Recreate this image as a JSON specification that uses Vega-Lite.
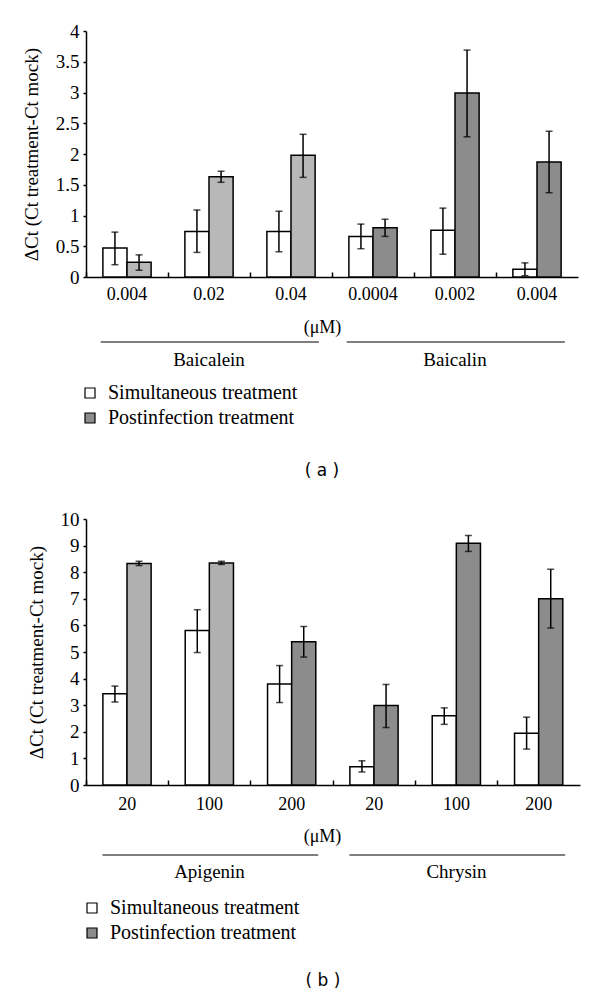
{
  "$schema": "https://vega.github.io/schema/vega-lite/v6.json",
  "padding": {"left": 22, "top": 22, "right": 5, "bottom": 5},
  "spacing": 31,
  "resolve": {"legend": {"fill": "independent"}, "scale": {"x": "independent", "y": "independent"}},
  "config": {
    "view": {"stroke": null},
    "font": "Liberation Serif",
    "axis": {
      "grid": false,
      "domainColor": "black",
      "domainWidth": 1.5,
      "tickColor": "black",
      "tickWidth": 1.5,
      "labelColor": "black",
      "titleColor": "black",
      "labelFont": "Liberation Serif",
      "titleFont": "Liberation Serif",
      "labelFontSize": 18,
      "titleFontSize": 18,
      "titleFontWeight": "normal"
    },
    "legend": {
      "labelFont": "Liberation Serif",
      "labelFontSize": 20,
      "labelColor": "black",
      "labelLimit": 0
    }
  },
  "vconcat": [
    {
      "width": 492,
      "height": 246,
      "title": {"text": "( a )", "orient": "bottom", "font": "DejaVu Sans", "fontSize": 17, "fontWeight": "normal", "color": "black", "offset": 35, "dx": -10},
      "data": {"values": [
        {"cat": "Baicalein|0.004", "group": "Baicalein", "series": "Simultaneous treatment", "value": 0.47, "lo": 0.20, "hi": 0.73},
        {"cat": "Baicalein|0.004", "group": "Baicalein", "series": "Postinfection treatment", "value": 0.24, "lo": 0.11, "hi": 0.36},
        {"cat": "Baicalein|0.02", "group": "Baicalein", "series": "Simultaneous treatment", "value": 0.74, "lo": 0.40, "hi": 1.09},
        {"cat": "Baicalein|0.02", "group": "Baicalein", "series": "Postinfection treatment", "value": 1.63, "lo": 1.54, "hi": 1.72},
        {"cat": "Baicalein|0.04", "group": "Baicalein", "series": "Simultaneous treatment", "value": 0.74, "lo": 0.41, "hi": 1.07},
        {"cat": "Baicalein|0.04", "group": "Baicalein", "series": "Postinfection treatment", "value": 1.98, "lo": 1.62, "hi": 2.32},
        {"cat": "Baicalin|0.0004", "group": "Baicalin", "series": "Simultaneous treatment", "value": 0.66, "lo": 0.46, "hi": 0.86},
        {"cat": "Baicalin|0.0004", "group": "Baicalin", "series": "Postinfection treatment", "value": 0.80, "lo": 0.66, "hi": 0.94},
        {"cat": "Baicalin|0.002", "group": "Baicalin", "series": "Simultaneous treatment", "value": 0.76, "lo": 0.37, "hi": 1.12},
        {"cat": "Baicalin|0.002", "group": "Baicalin", "series": "Postinfection treatment", "value": 2.99, "lo": 2.28, "hi": 3.69},
        {"cat": "Baicalin|0.004", "group": "Baicalin", "series": "Simultaneous treatment", "value": 0.125, "lo": 0.02, "hi": 0.23},
        {"cat": "Baicalin|0.004", "group": "Baicalin", "series": "Postinfection treatment", "value": 1.87, "lo": 1.37, "hi": 2.37}
      ]},
      "encoding": {
        "x": {"field": "cat", "type": "nominal", "sort": null,
          "scale": {"domain": ["Baicalein|0.004", "Baicalein|0.02", "Baicalein|0.04", "Baicalin|0.0004", "Baicalin|0.002", "Baicalin|0.004"], "paddingInner": 0, "paddingOuter": 0},
          "axis": {"labelExpr": "split(datum.label, '|')[1]", "labelAngle": 0, "bandPosition": 0, "tickSize": -5, "labelPadding": 13, "labelFont": "Liberation Serif", "labelFontSize": 18, "title": "(μM)", "titleFont": "Liberation Serif", "titleFontSize": 18, "titlePadding": 15, "titleX": 236}},
        "xOffset": {"field": "series", "type": "nominal", "sort": ["Simultaneous treatment", "Postinfection treatment"], "scale": {"paddingInner": 0, "paddingOuter": 0.7}}
      },
      "layer": [
        {
          "mark": {"type": "bar", "stroke": "black", "strokeWidth": 1.5},
          "encoding": {
            "y": {"field": "value", "type": "quantitative", "scale": {"domain": [0, 4], "nice": false},
              "axis": {"values": [0, 0.5, 1, 1.5, 2, 2.5, 3, 3.5, 4], "format": "~r", "tickSize": 3, "labelPadding": 4, "labelFont": "Liberation Serif", "labelFontSize": 19, "title": "ΔCt (Ct treatment-Ct mock)", "titleFont": "Liberation Serif", "titleFontSize": 19, "titlePadding": 14}},
            "fill": {
              "condition": {"test": "datum.series == 'Postinfection treatment' && datum.group == 'Baicalein'", "value": "#b8b8b8"},
              "field": "series", "type": "nominal",
              "scale": {"domain": ["Simultaneous treatment", "Postinfection treatment"], "range": ["white", "#8c8c8c"]},
              "legend": {"title": null, "orient": "none", "legendX": -6, "legendY": 352, "symbolType": "square", "symbolSize": 100, "symbolStrokeColor": "black", "symbolStrokeWidth": 1.2, "labelOffset": 8, "rowPadding": 5, "labelFont": "Liberation Serif", "labelFontSize": 20}
            }
          }
        },
        {
          "mark": {"type": "rule", "color": "black", "strokeWidth": 1.5},
          "encoding": {"y": {"field": "lo", "type": "quantitative",
              "axis": {"values": [0, 0.5, 1, 1.5, 2, 2.5, 3, 3.5, 4], "format": "~r", "tickSize": 3, "labelPadding": 4, "labelFont": "Liberation Serif", "labelFontSize": 19, "title": "ΔCt (Ct treatment-Ct mock)", "titleFont": "Liberation Serif", "titleFontSize": 19, "titlePadding": 14}},
            "y2": {"field": "hi"}}
        },
        {
          "mark": {"type": "tick", "color": "black", "size": 7, "thickness": 1.5},
          "encoding": {"y": {"field": "lo", "type": "quantitative",
              "axis": {"values": [0, 0.5, 1, 1.5, 2, 2.5, 3, 3.5, 4], "format": "~r", "tickSize": 3, "labelPadding": 4, "labelFont": "Liberation Serif", "labelFontSize": 19, "title": "ΔCt (Ct treatment-Ct mock)", "titleFont": "Liberation Serif", "titleFontSize": 19, "titlePadding": 14}}}
        },
        {
          "mark": {"type": "tick", "color": "black", "size": 7, "thickness": 1.5},
          "encoding": {"y": {"field": "hi", "type": "quantitative",
              "axis": {"values": [0, 0.5, 1, 1.5, 2, 2.5, 3, 3.5, 4], "format": "~r", "tickSize": 3, "labelPadding": 4, "labelFont": "Liberation Serif", "labelFontSize": 19, "title": "ΔCt (Ct treatment-Ct mock)", "titleFont": "Liberation Serif", "titleFontSize": 19, "titlePadding": 14}}}
        },
        {
          "data": {"values": [
            {"group": "Baicalein", "start": "Baicalein|0.004", "mid": "Baicalein|0.02", "end": "Baicalein|0.04"},
            {"group": "Baicalin", "start": "Baicalin|0.0004", "mid": "Baicalin|0.002", "end": "Baicalin|0.004"}
          ]},
          "mark": {"type": "rule", "color": "black", "strokeWidth": 1.2, "yOffset": 65},
          "encoding": {
            "x": {"field": "start", "type": "nominal", "bandPosition": 0.18},
            "x2": {"field": "end", "bandPosition": 0.84},
            "xOffset": null,
            "y": {"datum": 0, "type": "quantitative",
              "axis": {"values": [0, 0.5, 1, 1.5, 2, 2.5, 3, 3.5, 4], "format": "~r", "tickSize": 3, "labelPadding": 4, "labelFont": "Liberation Serif", "labelFontSize": 19, "title": "ΔCt (Ct treatment-Ct mock)", "titleFont": "Liberation Serif", "titleFontSize": 19, "titlePadding": 14}}
          }
        },
        {
          "data": {"values": [
            {"group": "Baicalein", "start": "Baicalein|0.004", "mid": "Baicalein|0.02", "end": "Baicalein|0.04"},
            {"group": "Baicalin", "start": "Baicalin|0.0004", "mid": "Baicalin|0.002", "end": "Baicalin|0.004"}
          ]},
          "mark": {"type": "text", "font": "Liberation Serif", "fontSize": 19, "color": "black", "baseline": "middle", "dy": 83},
          "encoding": {
            "x": {"field": "mid", "type": "nominal"},
            "xOffset": null,
            "y": {"datum": 0, "type": "quantitative",
              "axis": {"values": [0, 0.5, 1, 1.5, 2, 2.5, 3, 3.5, 4], "format": "~r", "tickSize": 3, "labelPadding": 4, "labelFont": "Liberation Serif", "labelFontSize": 19, "title": "ΔCt (Ct treatment-Ct mock)", "titleFont": "Liberation Serif", "titleFontSize": 19, "titlePadding": 14}},
            "text": {"field": "group"}
          }
        }
      ]
    },
    {
      "width": 494,
      "height": 266,
      "title": {"text": "( b )", "orient": "bottom", "font": "DejaVu Sans", "fontSize": 17, "fontWeight": "normal", "color": "black", "offset": 30, "dx": -10},
      "data": {"values": [
        {"cat": "Apigenin|20", "group": "Apigenin", "series": "Simultaneous treatment", "value": 3.43, "lo": 3.12, "hi": 3.72},
        {"cat": "Apigenin|20", "group": "Apigenin", "series": "Postinfection treatment", "value": 8.33, "lo": 8.25, "hi": 8.41},
        {"cat": "Apigenin|100", "group": "Apigenin", "series": "Simultaneous treatment", "value": 5.81, "lo": 4.98, "hi": 6.59},
        {"cat": "Apigenin|100", "group": "Apigenin", "series": "Postinfection treatment", "value": 8.35, "lo": 8.29, "hi": 8.41},
        {"cat": "Apigenin|200", "group": "Apigenin", "series": "Simultaneous treatment", "value": 3.80, "lo": 3.10, "hi": 4.49},
        {"cat": "Apigenin|200", "group": "Apigenin", "series": "Postinfection treatment", "value": 5.39, "lo": 4.81, "hi": 5.96},
        {"cat": "Chrysin|20", "group": "Chrysin", "series": "Simultaneous treatment", "value": 0.69, "lo": 0.49, "hi": 0.91},
        {"cat": "Chrysin|20", "group": "Chrysin", "series": "Postinfection treatment", "value": 2.99, "lo": 2.16, "hi": 3.78},
        {"cat": "Chrysin|100", "group": "Chrysin", "series": "Simultaneous treatment", "value": 2.60, "lo": 2.28, "hi": 2.90},
        {"cat": "Chrysin|100", "group": "Chrysin", "series": "Postinfection treatment", "value": 9.09, "lo": 8.78, "hi": 9.38},
        {"cat": "Chrysin|200", "group": "Chrysin", "series": "Simultaneous treatment", "value": 1.95, "lo": 1.35, "hi": 2.55},
        {"cat": "Chrysin|200", "group": "Chrysin", "series": "Postinfection treatment", "value": 7.00, "lo": 5.90, "hi": 8.11}
      ]},
      "encoding": {
        "x": {"field": "cat", "type": "nominal", "sort": null,
          "scale": {"domain": ["Apigenin|20", "Apigenin|100", "Apigenin|200", "Chrysin|20", "Chrysin|100", "Chrysin|200"], "paddingInner": 0, "paddingOuter": 0},
          "axis": {"labelExpr": "split(datum.label, '|')[1]", "labelAngle": 0, "bandPosition": 0, "tickSize": -5, "labelPadding": 15, "labelFont": "Liberation Serif", "labelFontSize": 18, "title": "(μM)", "titleFont": "Liberation Serif", "titleFontSize": 18, "titlePadding": 14, "titleX": 236}},
        "xOffset": {"field": "series", "type": "nominal", "sort": ["Simultaneous treatment", "Postinfection treatment"], "scale": {"paddingInner": 0, "paddingOuter": 0.7}}
      },
      "layer": [
        {
          "mark": {"type": "bar", "stroke": "black", "strokeWidth": 1.5},
          "encoding": {
            "y": {"field": "value", "type": "quantitative", "scale": {"domain": [0, 10], "nice": false},
              "axis": {"values": [0, 1, 2, 3, 4, 5, 6, 7, 8, 9, 10], "format": "~r", "tickSize": 3, "labelPadding": 4, "labelFont": "Liberation Serif", "labelFontSize": 19, "title": "ΔCt (Ct treatment-Ct mock)", "titleFont": "Liberation Serif", "titleFontSize": 19, "titlePadding": 14}},
            "fill": {
              "condition": {"test": "datum.series == 'Postinfection treatment' && datum.group == 'Apigenin' && datum.cat != 'Apigenin|200'", "value": "#b0b0b0"},
              "field": "series", "type": "nominal",
              "scale": {"domain": ["Simultaneous treatment", "Postinfection treatment"], "range": ["white", "#8c8c8c"]},
              "legend": {"title": null, "orient": "none", "legendX": -4, "legendY": 379, "symbolType": "square", "symbolSize": 100, "symbolStrokeColor": "black", "symbolStrokeWidth": 1.2, "labelOffset": 8, "rowPadding": 5, "labelFont": "Liberation Serif", "labelFontSize": 20}
            }
          }
        },
        {
          "mark": {"type": "rule", "color": "black", "strokeWidth": 1.5},
          "encoding": {"y": {"field": "lo", "type": "quantitative",
              "axis": {"values": [0, 1, 2, 3, 4, 5, 6, 7, 8, 9, 10], "format": "~r", "tickSize": 3, "labelPadding": 4, "labelFont": "Liberation Serif", "labelFontSize": 19, "title": "ΔCt (Ct treatment-Ct mock)", "titleFont": "Liberation Serif", "titleFontSize": 19, "titlePadding": 14}},
            "y2": {"field": "hi"}}
        },
        {
          "mark": {"type": "tick", "color": "black", "size": 7, "thickness": 1.5},
          "encoding": {"y": {"field": "lo", "type": "quantitative",
              "axis": {"values": [0, 1, 2, 3, 4, 5, 6, 7, 8, 9, 10], "format": "~r", "tickSize": 3, "labelPadding": 4, "labelFont": "Liberation Serif", "labelFontSize": 19, "title": "ΔCt (Ct treatment-Ct mock)", "titleFont": "Liberation Serif", "titleFontSize": 19, "titlePadding": 14}}}
        },
        {
          "mark": {"type": "tick", "color": "black", "size": 7, "thickness": 1.5},
          "encoding": {"y": {"field": "hi", "type": "quantitative",
              "axis": {"values": [0, 1, 2, 3, 4, 5, 6, 7, 8, 9, 10], "format": "~r", "tickSize": 3, "labelPadding": 4, "labelFont": "Liberation Serif", "labelFontSize": 19, "title": "ΔCt (Ct treatment-Ct mock)", "titleFont": "Liberation Serif", "titleFontSize": 19, "titlePadding": 14}}}
        },
        {
          "data": {"values": [
            {"group": "Apigenin", "start": "Apigenin|20", "mid": "Apigenin|100", "end": "Apigenin|200"},
            {"group": "Chrysin", "start": "Chrysin|20", "mid": "Chrysin|100", "end": "Chrysin|200"}
          ]},
          "mark": {"type": "rule", "color": "black", "strokeWidth": 1.2, "yOffset": 70},
          "encoding": {
            "x": {"field": "start", "type": "nominal", "bandPosition": 0.2},
            "x2": {"field": "end", "bandPosition": 0.82},
            "xOffset": null,
            "y": {"datum": 0, "type": "quantitative",
              "axis": {"values": [0, 1, 2, 3, 4, 5, 6, 7, 8, 9, 10], "format": "~r", "tickSize": 3, "labelPadding": 4, "labelFont": "Liberation Serif", "labelFontSize": 19, "title": "ΔCt (Ct treatment-Ct mock)", "titleFont": "Liberation Serif", "titleFontSize": 19, "titlePadding": 14}}
          }
        },
        {
          "data": {"values": [
            {"group": "Apigenin", "start": "Apigenin|20", "mid": "Apigenin|100", "end": "Apigenin|200"},
            {"group": "Chrysin", "start": "Chrysin|20", "mid": "Chrysin|100", "end": "Chrysin|200"}
          ]},
          "mark": {"type": "text", "font": "Liberation Serif", "fontSize": 19, "color": "black", "baseline": "middle", "dy": 87},
          "encoding": {
            "x": {"field": "mid", "type": "nominal"},
            "xOffset": null,
            "y": {"datum": 0, "type": "quantitative",
              "axis": {"values": [0, 1, 2, 3, 4, 5, 6, 7, 8, 9, 10], "format": "~r", "tickSize": 3, "labelPadding": 4, "labelFont": "Liberation Serif", "labelFontSize": 19, "title": "ΔCt (Ct treatment-Ct mock)", "titleFont": "Liberation Serif", "titleFontSize": 19, "titlePadding": 14}},
            "text": {"field": "group"}
          }
        }
      ]
    }
  ]
}
